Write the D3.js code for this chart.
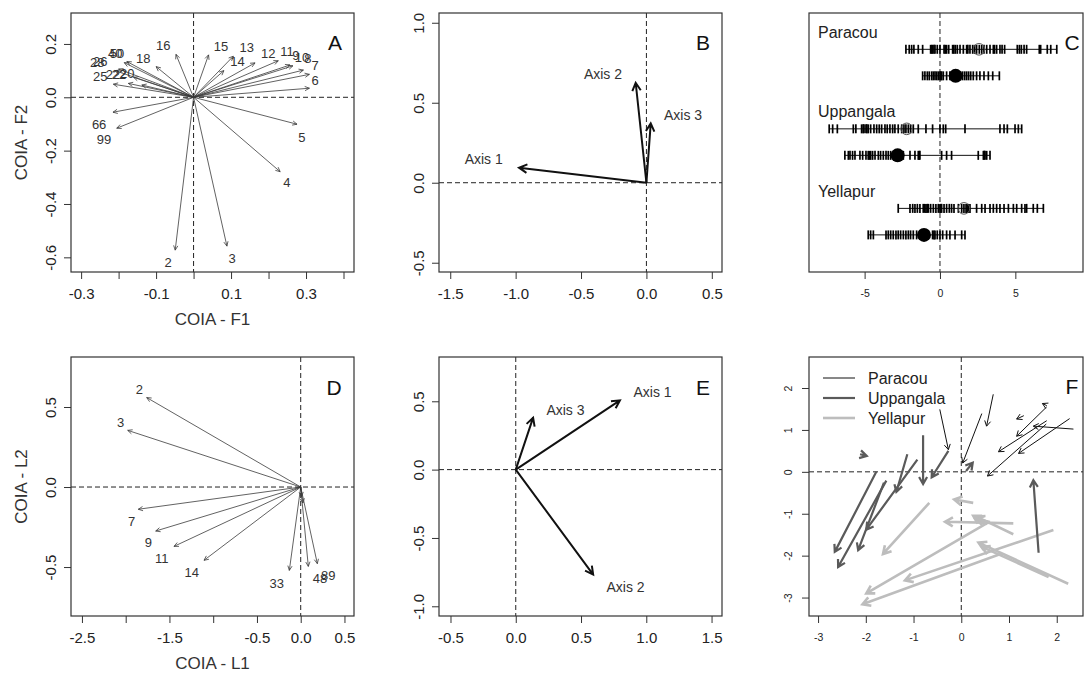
<!DOCTYPE html>
<html><head><meta charset="utf-8">
<script src="https://cdn.jsdelivr.net/npm/d3@7"></script>
<style>body{margin:0;background:#fff}</style>
</head><body><svg id="chart" width="1084" height="673"></svg>
<script>
// ---------------- DATA ----------------
// Panel A (COIA F1/F2 loadings)
const aLabels = ["2","3","4","5","6","7","8","10","9","11","12","13","14","15","16","18","40","50","28","26","25","22","22","20","66","99"];
const aX  = [-0.049,0.089,0.231,0.276,0.309,0.309,0.293,0.265,0.257,0.226,0.164,0.106,0.081,0.040,-0.047,-0.100,-0.178,-0.185,-0.200,-0.210,-0.214,-0.174,-0.160,-0.138,-0.215,-0.205];
const aY  = [-0.573,-0.558,-0.279,-0.101,0.034,0.086,0.102,0.118,0.121,0.137,0.129,0.154,0.100,0.159,0.161,0.115,0.134,0.130,0.106,0.100,0.049,0.052,0.075,0.046,-0.056,-0.116];
const aLX = [-0.068,0.103,0.249,0.289,0.324,0.324,0.305,0.289,0.273,0.249,0.199,0.142,0.117,0.073,-0.081,-0.134,-0.209,-0.204,-0.257,-0.249,-0.249,-0.215,-0.199,-0.177,-0.252,-0.239];
const aLY = [-0.618,-0.603,-0.321,-0.149,0.065,0.121,0.147,0.151,0.158,0.171,0.165,0.186,0.133,0.190,0.196,0.146,0.165,0.166,0.132,0.136,0.077,0.084,0.087,0.090,-0.100,-0.157];
const aXTicks = [-0.3,-0.2,-0.1,0.0,0.1,0.2,0.3,0.4];
const aXTickLabels = ["-0.3","","-0.1","","0.1","","0.3",""];
const aYTicks = [0.2,0.0,-0.2,-0.4,-0.6];
const aYTickLabels = ["0.2","0.0","-0.2","-0.4","-0.6"];

// Panel B
const bLabels = ["Axis 1","Axis 2","Axis 3"];
const bX = [-0.974,-0.082,0.033];
const bY = [0.094,0.625,0.371];
const bLX = [-1.244,-0.332,0.280];
const bLY = [0.146,0.679,0.423];
const bXTicks = [-1.5,-1.0,-0.5,0.0,0.5];
const bXTickLabels = ["-1.5","-1.0","-0.5","0.0","0.5"];
const bYTicks = [-0.5,0.0,0.5,1.0];
const bYTickLabels = ["-0.5","0.0","0.5","1.0"];

// Panel C (scores per site, two rows per site)
const cSites = ["Paracou","Uppangala","Yellapur"];
const cRow1 = [-2.26,-2.04,-1.88,-1.73,-1.44,-1.15,-0.62,-0.55,-0.49,-0.40,-0.33,-0.18,0.0,0.27,0.35,0.44,0.58,0.84,0.92,1.02,1.15,1.33,1.55,1.77,1.85,1.99,2.17,2.30,2.43,2.61,2.77,2.92,3.10,3.32,3.54,3.62,3.76,3.98,4.12,4.29,5.13,5.27,5.40,5.58,5.75,6.59,6.68,7.12,7.35,7.75];
const cRow2 = [-1.15,-1.0,-0.84,-0.71,-0.55,-0.44,-0.33,-0.22,-0.11,0.0,0.05,0.11,0.22,0.44,0.66,0.93,1.22,1.37,1.50,1.64,1.77,1.90,2.04,2.21,2.43,2.65,2.92,3.21,3.50,3.94];
const cRow3 = [-7.35,-7.12,-6.81,-5.75,-5.58,-5.20,-5.10,-5.04,-4.91,-4.85,-4.76,-4.60,-4.38,-4.20,-4.03,-3.87,-3.65,-3.50,-3.32,-3.14,-2.99,-2.77,-2.54,-2.39,-2.26,-2.10,-1.95,-1.77,-1.44,-0.93,-0.49,0.0,0.22,0.38,1.66,3.98,4.25,4.47,4.98,5.20,5.42];
const cRow4 = [-6.31,-6.08,-5.97,-5.80,-5.64,-5.31,-5.13,-4.91,-4.76,-4.68,-4.60,-4.47,-4.31,-4.09,-3.94,-3.76,-3.58,-3.43,-3.27,-3.10,-2.88,-2.65,-2.43,-1.99,-1.66,-1.44,-1.38,-1.33,0.11,0.44,0.77,2.54,2.88,2.93,2.99,3.10,3.32];
const cRow5 = [-2.77,-1.99,-1.81,-1.66,-1.50,-1.33,-1.11,-1.02,-0.93,-0.85,-0.77,-0.62,-0.44,-0.27,-0.11,0.0,0.05,0.11,0.27,0.44,0.62,0.77,0.93,1.22,1.44,1.59,1.73,1.80,1.88,1.99,2.43,2.77,2.99,3.32,3.54,3.76,3.98,4.25,4.54,4.87,5.09,5.42,5.64,5.75,6.19,6.46,6.86];
const cRow6 = [-4.76,-4.60,-4.42,-3.58,-3.43,-3.27,-3.10,-2.92,-2.77,-2.61,-2.43,-2.26,-2.10,-1.95,-1.77,-1.55,-1.33,-1.11,-0.77,-0.49,-0.40,-0.33,-0.18,0.0,0.18,0.44,0.66,1.00,1.44,1.66];
const cMeans = [2.59,1.04,-2.21,-2.81,1.59,-1.06];
const cXTicks = [-5,0,5];
const cXTickLabels = ["-5","0","5"];

// Panel D (COIA L1/L2 loadings)
const dLabels = ["2","3","7","9","11","14","33","48","89","",""];
const dX  = [-1.760,-1.977,-1.856,-1.657,-1.448,-1.105,-0.130,0.087,0.190,0.010,0.025];
const dY  = [0.559,0.354,-0.139,-0.275,-0.371,-0.458,-0.521,-0.496,-0.479,-0.060,-0.100];
const dLX = [-1.845,-2.057,-1.931,-1.742,-1.589,-1.246,-0.274,0.221,0.315,0,0];
const dLY = [0.609,0.406,-0.213,-0.344,-0.448,-0.531,-0.604,-0.573,-0.552,0,0];
const dXTicks = [-2.5,-2.0,-1.5,-1.0,-0.5,0.0,0.5];
const dXTickLabels = ["-2.5","","-1.5","","-0.5","0.0","0.5"];
const dYTicks = [0.5,0.0,-0.5];
const dYTickLabels = ["0.5","0.0","-0.5"];

// Panel E
const eLabels = ["Axis 1","Axis 2","Axis 3"];
const eX = [0.798,0.593,0.133];
const eY = [0.507,-0.768,0.380];
const eLX = [1.048,0.841,0.381];
const eLY = [0.568,-0.859,0.439];
const eXTicks = [-0.5,0.0,0.5,1.0,1.5];
const eXTickLabels = ["-0.5","0.0","0.5","1.0","1.5"];
const eYTicks = [-1.0,-0.5,0.0,0.5];
const eYTickLabels = ["-1.0","-0.5","0.0","0.5"];

// Panel F: arrows [x start, y start, x end, y end]
const fSites = ["Paracou","Uppangala","Yellapur"];
const fParacou = [
  [0.67,1.85,0.53,1.09],[0.43,1.39,0.03,0.21],[-0.45,1.49,-0.27,0.53],
  [1.79,1.55,1.16,0.85],[1.31,1.34,1.16,1.26],[1.79,1.22,0.78,0.48],
  [2.35,1.02,1.51,1.09],[2.27,1.27,1.20,0.44],[1.78,1.14,0.55,-0.10],
  [1.79,1.58,1.70,1.63]
];
const fUppangala = [
  [-0.80,0.875,-0.80,-0.29],[-0.27,0.50,-0.62,-0.13],[-1.13,0.42,-1.36,-0.48],
  [-0.92,0.29,-1.99,-1.38],[-1.78,0.0,-2.65,-1.91],[-1.57,-0.21,-2.58,-2.27],
  [-1.62,-0.26,-2.16,-1.87],[1.62,-1.93,1.51,-0.20],[0.10,0.02,0.24,0.22],
  [-2.12,0.42,-1.98,0.38]
];
const fYellapur = [
  [-0.67,-0.74,-1.64,-1.96],[0.25,-0.74,-0.15,-0.66],[1.09,-1.23,-0.34,-1.19],
  [1.09,-1.49,0.32,-1.07],[0.60,-1.20,0.30,-1.12],[0.55,-1.25,0.25,-1.05],
  [1.93,-1.39,-1.18,-2.59],[2.24,-2.67,0.36,-1.69],[1.83,-2.51,0.43,-1.79],
  [0.53,-1.23,-1.99,-2.90],[0.85,-1.95,-2.07,-3.16]
];
const fXTicks = [-3,-2,-1,0,1,2];
const fXTickLabels = ["-3","-2","-1","0","1","2"];
const fYTicks = [-3,-2,-1,0,1,2];
const fYTickLabels = ["-3","-2","-1","0","1","2"];

// ---------------- DRAWING ----------------
const FONT = "'Liberation Sans', Arial, sans-serif";
const svg = d3.select("#chart");

function panel(x0,x1,y0,y1,xd,yd){
  return {x0,x1,y0,y1,
    x:d3.scaleLinear().domain(xd).range([x0,x1]),
    y:d3.scaleLinear().domain(yd).range([y1,y0])};
}
function box(P){
  svg.append("rect").attr("x",P.x0).attr("y",P.y0).attr("width",P.x1-P.x0).attr("height",P.y1-P.y0)
    .attr("fill","none").attr("stroke","#333").attr("stroke-width",1.2);
}
function zeroLines(P, both){
  svg.append("line").attr("x1",P.x(0)).attr("x2",P.x(0)).attr("y1",P.y0).attr("y2",P.y1)
    .attr("stroke","#222").attr("stroke-dasharray","5,3");
  if(both!==false) svg.append("line").attr("x1",P.x0).attr("x2",P.x1).attr("y1",P.y(0)).attr("y2",P.y(0))
    .attr("stroke","#222").attr("stroke-dasharray","5,3");
}
function xAxis(P, vals, labs, fs, ty){
  const ax = d3.axisBottom(P.x).tickValues(vals).tickSize(7).tickSizeOuter(0).tickFormat((d,i)=>labs[i]);
  const g = svg.append("g").attr("transform",`translate(0,${P.y1})`).call(ax)
    .attr("font-family",FONT).attr("font-size",fs);
  g.select(".domain").remove();
  g.selectAll(".tick line").attr("stroke","#333");
  g.selectAll(".tick text").attr("y",ty).attr("dy","0.71em").attr("fill","#222");
}
function yAxis(P, vals, labs, fs, tx){
  const ax = d3.axisLeft(P.y).tickValues(vals).tickSize(7).tickSizeOuter(0).tickFormat((d,i)=>labs[i]);
  const g = svg.append("g").attr("transform",`translate(${P.x0},0)`).call(ax)
    .attr("font-family",FONT).attr("font-size",fs);
  g.select(".domain").remove();
  g.selectAll(".tick line").attr("stroke","#333");
  g.selectAll(".tick text").attr("x",0).attr("y",-tx).attr("dy",0)
    .attr("transform","rotate(-90)").attr("text-anchor","middle").attr("fill","#222");
}
function titles(P, xt, yt){
  svg.append("text").attr("x",(P.x0+P.x1)/2).attr("y",P.y1+53).attr("text-anchor","middle")
    .attr("font-family",FONT).attr("font-size",17).attr("fill","#333").text(xt);
  svg.append("text").attr("transform",`translate(${P.x0-44},${(P.y0+P.y1)/2}) rotate(-90)`)
    .attr("text-anchor","middle").attr("font-family",FONT).attr("font-size",17).attr("fill","#333").text(yt);
}
function letter(P, t, dx, dy){
  svg.append("text").attr("x",P.x1-dx).attr("y",P.y0+dy).attr("text-anchor","middle")
    .attr("font-family",FONT).attr("font-size",21).attr("fill","#111").text(t);
}
function arrowPath(x1,y1,x2,y2,len,ang){
  const th = Math.atan2(y2-y1,x2-x1), a = ang*Math.PI/180;
  const hx1 = x2-len*Math.cos(th-a), hy1 = y2-len*Math.sin(th-a);
  const hx2 = x2-len*Math.cos(th+a), hy2 = y2-len*Math.sin(th+a);
  return `M${x1},${y1}L${x2},${y2}M${hx1},${hy1}L${x2},${y2}L${hx2},${hy2}`;
}
function drawArrows(P, segs, stroke, width, len, ang){
  svg.append("g").selectAll("path").data(segs).join("path")
    .attr("d",s=>arrowPath(P.x(s[0]),P.y(s[1]),P.x(s[2]),P.y(s[3]),len,ang))
    .attr("fill","none").attr("stroke",stroke).attr("stroke-width",width)
    .attr("stroke-linecap","butt").attr("stroke-linejoin","miter");
}
function loadings(P, labels, xs, ys, lxs, lys, stroke, width, len, ang, fs){
  const segs = labels.map((l,i)=>[0,0,xs[i],ys[i]]);
  drawArrows(P, segs, stroke, width, len, ang);
  svg.append("g").selectAll("text").data(labels.map((l,i)=>({l,x:lxs[i],y:lys[i]})).filter(d=>d.l!==""))
    .join("text").attr("x",d=>P.x(d.x)).attr("y",d=>P.y(d.y)).attr("dy","0.35em")
    .attr("text-anchor","middle").attr("font-family",FONT).attr("font-size",fs).attr("fill","#333").text(d=>d.l);
}

// ---- Panel A
const PA = panel(71,354,13,272,[-0.327,0.428],[-0.655,0.316]);
zeroLines(PA);
loadings(PA,aLabels,aX,aY,aLX,aLY,"#3a3a3a",0.8,5,25,13);
xAxis(PA,aXTicks,aXTickLabels,15,16); yAxis(PA,aYTicks,aYTickLabels,15,15);
titles(PA,"COIA - F1","COIA - F2");
box(PA); letter(PA,"A",19,37);

// ---- Panel B
const PB = panel(439,722,13,272,[-1.586,0.578],[-0.558,1.061]);
zeroLines(PB);
loadings(PB,bLabels,bX,bY,bLX,bLY,"#111",2,9,28,14);
xAxis(PB,bXTicks,bXTickLabels,15,16); yAxis(PB,bYTicks,bYTickLabels,15,15);
box(PB); letter(PB,"B",19,37);

// ---- Panel C
const PC = panel(809,1083,13,272,[-8.69,9.49],[0,1]);
const cY = d3.scaleLinear().domain([-0.37,9.40]).range([PC.y0,PC.y1]);
zeroLines(PC,false);
const cRows = [cRow1,cRow2,cRow3,cRow4,cRow5,cRow6];
const gC = svg.append("g");
cRows.forEach((vals,i)=>{
  const k = Math.floor(i/2)*3 + (i%2) + 1;
  const yy = cY(k);
  const ext = d3.extent(vals);
  gC.append("line").attr("x1",PC.x(ext[0])).attr("x2",PC.x(ext[1])).attr("y1",yy).attr("y2",yy)
    .attr("stroke","#111").attr("stroke-width",1);
  gC.append("g").selectAll("line").data(vals).join("line")
    .attr("x1",d=>PC.x(d)).attr("x2",d=>PC.x(d)).attr("y1",yy-4.5).attr("y2",yy+4.5)
    .attr("stroke","#000").attr("stroke-width",1.7);
  if(i%2===0){
    gC.append("circle").attr("cx",PC.x(cMeans[i])).attr("cy",yy).attr("r",5.8)
      .attr("fill","none").attr("stroke","#555").attr("stroke-width",1);
  } else {
    gC.append("circle").attr("cx",PC.x(cMeans[i])).attr("cy",yy).attr("r",7).attr("fill","#000");
  }
});
cSites.forEach((s,g)=>{
  svg.append("text").attr("x",PC.x0+9).attr("y",cY(g*3+0.35)).attr("dy","0.35em")
    .attr("font-family",FONT).attr("font-size",16).attr("fill","#222").text(s);
});
xAxis(PC,cXTicks,cXTickLabels,10.5,18);
box(PC); letter(PC,"C",11,37);

// ---- Panel D
const PD = panel(71,354,357,616,[-2.625,0.609],[-0.806,0.8125]);
zeroLines(PD);
loadings(PD,dLabels,dX,dY,dLX,dLY,"#3a3a3a",0.8,5,25,13);
xAxis(PD,dXTicks,dXTickLabels,15,16); yAxis(PD,dYTicks,dYTickLabels,15,15);
titles(PD,"COIA - L1","COIA - L2");
box(PD); letter(PD,"D",20,38);

// ---- Panel E
const PE = panel(439,722,357,616,[-0.588,1.58],[-1.071,0.824]);
zeroLines(PE);
loadings(PE,eLabels,eX,eY,eLX,eLY,"#111",2,9,28,14);
xAxis(PE,eXTicks,eXTickLabels,15,16); yAxis(PE,eYTicks,eYTickLabels,15,15);
box(PE); letter(PE,"E",19,38);

// ---- Panel F
const PF = panel(809,1083,357,616,[-3.19,2.55],[-3.44,2.74]);
zeroLines(PF);
const fStyles = [{c:"#111",w:1,len:6},{c:"#5a5a5a",w:2.2,len:8},{c:"#bdbdbd",w:2.6,len:9}];
drawArrows(PF,fYellapur,fStyles[2].c,fStyles[2].w,fStyles[2].len,30);
drawArrows(PF,fUppangala,fStyles[1].c,fStyles[1].w,fStyles[1].len,30);
drawArrows(PF,fParacou,fStyles[0].c,fStyles[0].w,fStyles[0].len,30);
fSites.forEach((s,i)=>{
  const yy = PF.y0 + 21 + i*20;
  svg.append("line").attr("x1",PF.x0+14).attr("x2",PF.x0+46).attr("y1",yy).attr("y2",yy)
    .attr("stroke",fStyles[i].c).attr("stroke-width",fStyles[i].w);
  svg.append("text").attr("x",PF.x0+59).attr("y",yy).attr("dy","0.35em")
    .attr("font-family",FONT).attr("font-size",16).attr("fill","#222").text(s);
});
xAxis(PF,fXTicks,fXTickLabels,10.5,18); yAxis(PF,fYTicks,fYTickLabels,10.5,17);
box(PF); letter(PF,"F",11,37);
</script></body></html>
